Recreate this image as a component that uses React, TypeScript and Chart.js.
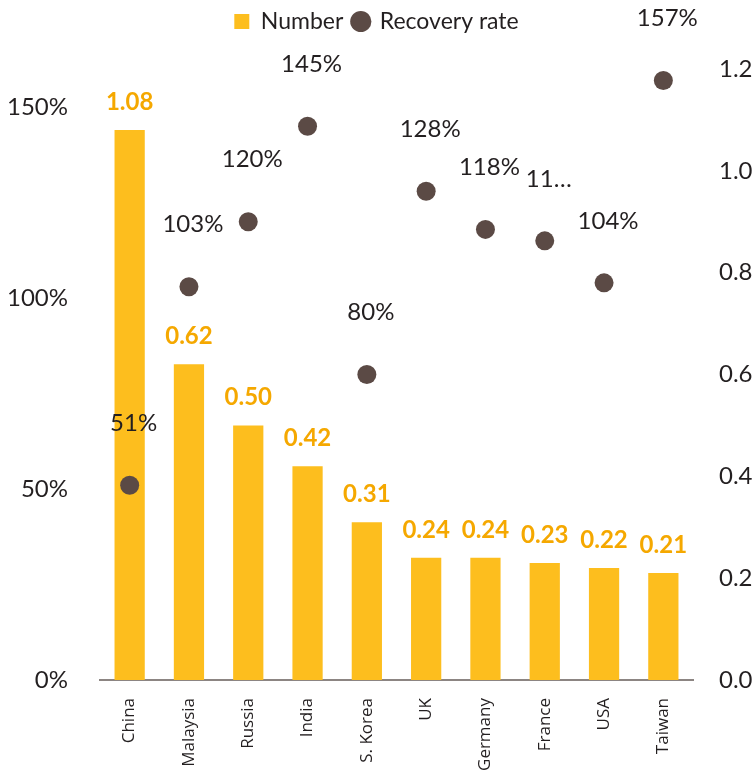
import React, { useEffect, useRef } from "react";
import { Chart, registerables } from "chart.js";

Chart.register(...registerables);

const countries = ["China", "Malaysia", "Russia", "India", "S. Korea", "UK", "Germany", "France", "USA", "Taiwan"];
const numbers = [1.08, 0.62, 0.5, 0.42, 0.31, 0.24, 0.24, 0.23, 0.22, 0.21];
const recoveryRates = [0.51, 1.03, 1.2, 1.45, 0.8, 1.28, 1.18, 1.15, 1.04, 1.57];
const rateLabels = ["51%", "103%", "120%", "145%", "80%", "128%", "118%", "11…", "104%", "157%"];
const leftTicks = [0, 0.5, 1.0, 1.5];

const BAR_COLOR = "#FDBE1E";
const BAR_LABEL_COLOR = "#F5A800";
const POINT_COLOR = "#5B4A45";
const TEXT_COLOR = "#231F20";
const FONT = "Lato, 'Open Sans', sans-serif";

const labelPlugin = {
  id: "valueLabels",
  afterDatasetsDraw(chart: any) {
    const ctx = chart.ctx;
    ctx.save();
    ctx.textAlign = "center";
    ctx.textBaseline = "middle";
    const barMeta = chart.getDatasetMeta(0);
    ctx.font = `bold 24px ${FONT}`;
    ctx.fillStyle = BAR_LABEL_COLOR;
    barMeta.data.forEach((el: any, i: number) => {
      ctx.fillText(numbers[i].toFixed(2), el.x, el.y - 28);
    });
    const ptMeta = chart.getDatasetMeta(1);
    ctx.font = `24px ${FONT}`;
    ctx.fillStyle = TEXT_COLOR;
    ptMeta.data.forEach((el: any, i: number) => {
      ctx.fillText(rateLabels[i], el.x + 4, el.y - 62);
    });
    ctx.restore();
  },
};

const legendGapPlugin = {
  id: "legendGap",
  beforeInit(chart: any) {
    const legend = chart.legend;
    if (!legend) return;
    const orig = legend.fit;
    legend.fit = function () {
      orig.call(this);
      this.height += 26;
    };
  },
};

export default function App() {
  const ref = useRef<HTMLCanvasElement | null>(null);
  useEffect(() => {
    if (!ref.current) return;
    const chart = new Chart(ref.current, {
      type: "bar",
      data: {
        labels: countries,
        datasets: [
          {
            type: "bar",
            label: "Number",
            data: numbers,
            backgroundColor: BAR_COLOR,
            yAxisID: "y1",
            order: 2,
            categoryPercentage: 1,
            barPercentage: 0.51,
          } as any,
          {
            type: "line",
            label: "Recovery rate",
            data: recoveryRates,
            showLine: false,
            pointRadius: 9.5,
            pointHoverRadius: 9.5,
            pointBackgroundColor: POINT_COLOR,
            pointBorderWidth: 0,
            backgroundColor: POINT_COLOR,
            borderColor: POINT_COLOR,
            yAxisID: "y",
            order: 1,
          } as any,
        ],
      },
      options: {
        responsive: false,
        animation: false,
        layout: { padding: 0 },
        plugins: {
          tooltip: { enabled: false },
          legend: {
            position: "top",
            labels: {
              usePointStyle: true,
              boxWidth: 15,
              boxHeight: 15,
              padding: 10,
              color: TEXT_COLOR,
              font: { family: FONT, size: 23 },
              generateLabels(chart: any) {
                const items = Chart.defaults.plugins.legend.labels.generateLabels(chart);
                items.sort((a: any, b: any) => a.datasetIndex - b.datasetIndex);
                items.forEach((it: any) => {
                  const isBar = it.datasetIndex === 0;
                  it.pointStyle = isBar ? "rect" : "circle";
                  it.fillStyle = isBar ? BAR_COLOR : POINT_COLOR;
                  it.strokeStyle = isBar ? BAR_COLOR : POINT_COLOR;
                  it.lineWidth = 0;
                });
                return items;
              },
            },
          },
        },
        scales: {
          x: {
            grid: { display: false },
            border: { display: true, color: "#8C8582", width: 2 },
            ticks: {
              color: TEXT_COLOR,
              font: { family: "'Open Sans', sans-serif", size: 17 },
              maxRotation: 90,
              minRotation: 90,
              padding: 10,
            },
            afterFit(scale: any) {
              scale.height = 95;
            },
          },
          y: {
            position: "left",
            min: 0,
            max: 1.6,
            grid: { display: false },
            border: { display: false },
            ticks: {
              stepSize: 0.5,
              color: TEXT_COLOR,
              font: { family: FONT, size: 24 },
              padding: 24,
              callback: (v: any) => Math.round(Number(v) * 100) + "%",
            },
            afterBuildTicks(scale: any) {
              scale.ticks = leftTicks.map((v) => ({ value: v }));
            },
            afterFit(scale: any) {
              scale.width = 100;
            },
          },
          y1: {
            position: "right",
            min: 0,
            max: 1.2,
            grid: { display: false },
            border: { display: false },
            ticks: {
              stepSize: 0.2,
              color: TEXT_COLOR,
              font: { family: FONT, size: 24 },
              padding: 18,
              callback: (v: any) => Number(v).toFixed(1),
            },
            afterFit(scale: any) {
              scale.width = 60;
            },
          },
        },
      } as any,
      plugins: [legendGapPlugin, labelPlugin],
    });
    return () => chart.destroy();
  }, []);
  return (
    <div style={{ position: "absolute", left: 0, top: 0, width: 753, height: 775 }}>
      <canvas ref={ref} width={753} height={775} style={{ width: 753, height: 775, display: "block" }} />
    </div>
  );
}
